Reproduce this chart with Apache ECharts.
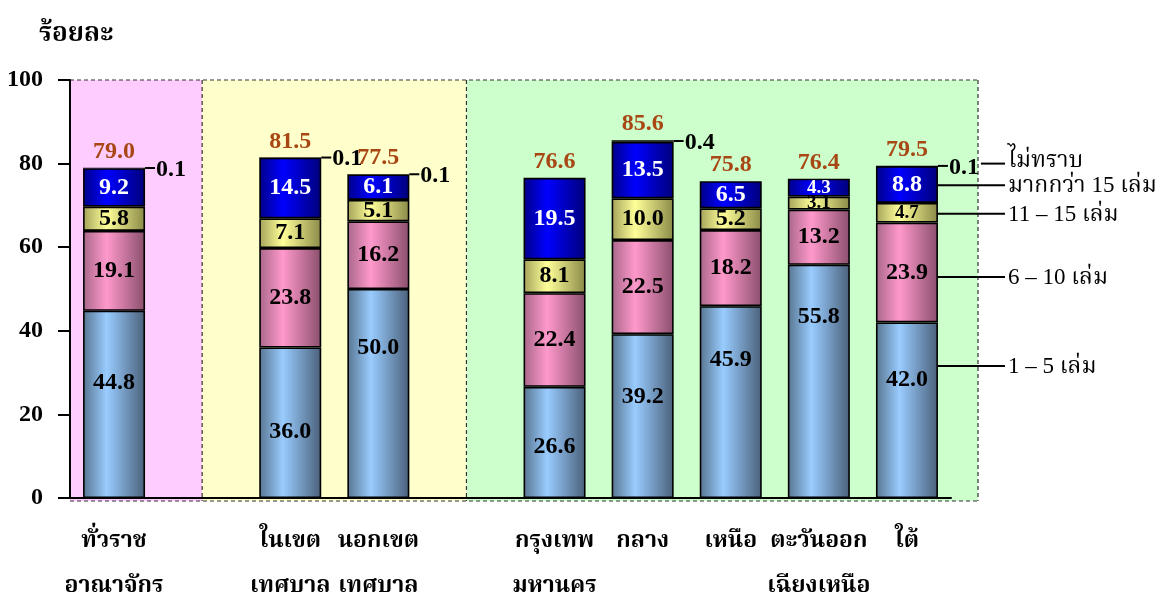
<!DOCTYPE html>
<html>
<head>
<meta charset="utf-8">
<script src="https://cdn.jsdelivr.net/npm/echarts@6.0.0/dist/echarts.min.js"></script>
<style>
html,body{margin:0;padding:0;background:#fff;}
#main{width:1172px;height:598px;}
</style>
</head>
<body>
<div id="main"></div>
<script>
// ---- data ----
const categories = ['ทั่วราช\nอาณาจักร', '', 'ในเขต\nเทศบาล', 'นอกเขต\nเทศบาล', '', 'กรุงเทพ\nมหานคร', 'กลาง', 'เหนือ', 'ตะวันออก\nเฉียงเหนือ', 'ใต้'];
const books1to5   = [44.8, null, 36.0, 50.0, null, 26.6, 39.2, 45.9, 55.8, 42.0];
const books6to10  = [19.1, null, 23.8, 16.2, null, 22.4, 22.5, 18.2, 13.2, 23.9];
const books11to15 = [5.8, null, 7.1, 5.1, null, 8.1, 10.0, 5.2, 3.1, 4.7];
const booksOver15 = [9.2, null, 14.5, 6.1, null, 19.5, 13.5, 6.5, 4.3, 8.8];
const booksUnknown = [0.1, null, 0.1, 0.1, null, 0, 0.4, 0, 0, 0.1];
const totals = [79.0, null, 81.5, 77.5, null, 76.6, 85.6, 75.8, 76.4, 79.5];
const yTicks = [0, 20, 40, 60, 80, 100];
const legendNames = ['ไม่ทราบ', 'มากกว่า 15 เล่ม', '11 – 15 เล่ม', '6 – 10 เล่ม', '1 – 5 เล่ม'];

// ---- layout (label / annotation anchor heights, in axis units) ----
const label1to5At = [27.5, null, 15.8, 35.9, null, 12.2, 24.2, 33.0, 43.3, 28.2];
const legendAnchorY = [80.0, 74.8, 68.0, 52.9, 31.6];

const GRID = {left: 70, right: 221, top: 80, bottom: 100};
const PX_PER_UNIT = (598 - GRID.top - GRID.bottom) / 100;
const FONT = "'Liberation Serif', 'Noto Serif Thai', 'Noto Sans Thai', serif";
const chart = echarts.init(document.getElementById('main'));

function grad(edgeL, light, edgeR) {
  return new echarts.graphic.LinearGradient(0, 0, 1, 0, [
    {offset: 0, color: edgeL},
    {offset: 0.38, color: light},
    {offset: 1, color: edgeR}
  ]);
}

function segLabel(color) {
  return {
    show: true,
    position: 'inside',
    fontFamily: FONT,
    fontWeight: 'bold',
    fontSize: 24,
    color: color,
    formatter: p => (p.value == null ? '' : (p.value < 5 ? '{s|' + p.value.toFixed(1) + '}' : p.value.toFixed(1))),
    rich: {s: {fontSize: 19, fontWeight: 'bold', fontFamily: FONT, color: color}}
  };
}

function segSeries(name, data, color, labelColor) {
  return {
    name: name, type: 'bar', stack: 'all', barWidth: 62, data: data,
    itemStyle: {color: color, borderColor: '#000', borderWidth: 1.6},
    label: segLabel(labelColor)
  };
}

// first segment: labels sit where the reference places them
const firstData = books1to5.map((v, i) => {
  if (v == null) return null;
  const dy = -(label1to5At[i] - v / 2) * PX_PER_UNIT;
  return {value: v, label: {offset: [0, dy]}};
});

const option = {
  animation: false,
  backgroundColor: '#ffffff',
  title: {
    text: 'ร้อยละ', left: 34, top: 16,
    textStyle: {fontFamily: FONT, fontSize: 26, fontWeight: 'bold', color: '#000'}
  },
  grid: Object.assign({containLabel: false, outerBoundsMode: 'none'}, GRID),
  xAxis: {
    type: 'category', data: categories,
    axisLine: {lineStyle: {color: '#000', width: 2}},
    axisTick: {show: false},
    axisLabel: {interval: 0, fontFamily: FONT, fontSize: 23, fontWeight: 'bold', color: '#000', lineHeight: 45, margin: 21}
  },
  yAxis: {
    type: 'value', min: yTicks[0], max: yTicks[yTicks.length - 1], interval: 20,
    axisLine: {show: true, lineStyle: {color: '#000', width: 2}},
    axisTick: {show: true, length: 12, lineStyle: {color: '#000', width: 2}},
    splitLine: {show: false},
    axisLabel: {fontFamily: FONT, fontSize: 24, fontWeight: 'bold', color: '#000', margin: 27}
  },
  series: [
    segSeries('1 – 5 เล่ม', firstData, grad('#587590', '#99ccff', '#4a607a'), '#000'),
    segSeries('6 – 10 เล่ม', books6to10, grad('#a8678a', '#ff99cc', '#8a4f6c'), '#000'),
    segSeries('11 – 15 เล่ม', books11to15, grad('#a3a25a', '#ffff99', '#8a8a48'), '#000'),
    segSeries('มากกว่า 15 เล่ม', booksOver15, grad('#000088', '#0000ff', '#00007a'), '#fff'),
    {
      name: 'ไม่ทราบ', type: 'bar', stack: 'all', barWidth: 62, data: booksUnknown,
      itemStyle: {color: '#000', borderWidth: 0},
      label: {
        show: true, position: 'right', distance: 0,
        formatter: p => (p.value ? '{ln| }{v|' + p.value.toFixed(1) + '}' : ''),
        rich: {
          ln: {width: 10, height: 2, backgroundColor: '#000', fontSize: 2},
          v: {fontFamily: FONT, fontSize: 24, fontWeight: 'bold', color: '#000', padding: [3, 0, 0, 1]}
        }
      }
    },
    {
      name: 'รวม', type: 'bar', stack: 'all', barWidth: 62,
      data: totals.map(t => (t == null ? null : 0)),
      itemStyle: {color: 'rgba(0,0,0,0)', borderWidth: 0},
      label: {
        show: true, position: 'top', distance: 4,
        fontFamily: FONT, fontSize: 24, fontWeight: 'bold', color: '#a84714',
        formatter: p => (totals[p.dataIndex] == null ? '' : totals[p.dataIndex].toFixed(1))
      }
    }
  ]
};
chart.setOption(option);

// ---- background panels and right-side annotations ----
const px = (xi, yv) => chart.convertToPixel({xAxisIndex: 0, yAxisIndex: 0}, [xi, yv]);
const yTop = px(0, 100)[1];
const yBot = px(0, 0)[1] + 3;
const xLeft = GRID.left;
const c1 = px(1, 0)[0];
const c4 = px(4, 0)[0];
const xRight = 978;
const dash = {stroke: '#333', lineWidth: 1.2, lineDash: [4, 3]};

const g = [];
g.push({type: 'rect', z: -10, shape: {x: xLeft, y: yTop, width: c1 - xLeft, height: yBot - yTop}, style: {fill: '#ffccff'}, silent: true});
g.push({type: 'rect', z: -10, shape: {x: c1, y: yTop, width: c4 - c1, height: yBot - yTop}, style: {fill: '#ffffcc'}, silent: true});
g.push({type: 'rect', z: -10, shape: {x: c4, y: yTop, width: xRight - c4, height: yBot - yTop}, style: {fill: '#ccffcc'}, silent: true});
g.push({type: 'line', z: -5, shape: {x1: xLeft, y1: yTop, x2: xRight, y2: yTop}, style: dash, silent: true});
g.push({type: 'line', z: -5, shape: {x1: xLeft, y1: yBot, x2: xRight, y2: yBot}, style: dash, silent: true});
[c1, c4, xRight].forEach(x => g.push({type: 'line', z: -5, shape: {x1: x, y1: yTop, x2: x, y2: yBot}, style: dash, silent: true}));

const lastIdx = categories.length - 1;
const barRight = px(lastIdx, 0)[0] + 31;
const lineEnd = 1005;
legendNames.forEach((name, i) => {
  const y = px(lastIdx, legendAnchorY[i])[1];
  const x1 = i === 0 ? barRight + 43 : barRight;
  g.push({type: 'line', z: 50, shape: {x1: x1, y1: y, x2: lineEnd, y2: y}, style: {stroke: '#000', lineWidth: 2}, silent: true});
  g.push({type: 'text', z: 50, x: lineEnd + 3, y: i === 0 ? y - 3 : y + 1, style: {text: name, font: "23px " + FONT, fill: '#000', verticalAlign: 'middle', align: 'left'}, silent: true});
});
chart.setOption({graphic: g});
</script>
</body>
</html>
